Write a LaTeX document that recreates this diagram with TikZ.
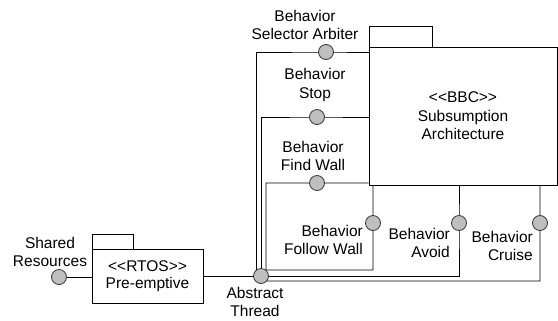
\documentclass[tikz,border=0pt]{standalone}
\usepackage{fontspec}
\setmainfont{Liberation Sans}
\usetikzlibrary{backgrounds}
\begin{document}
\begin{tikzpicture}[x=1bp,y=-1bp,
  every node/.style={font=\fontsize{15.5bp}{18.5bp}\selectfont},
  box/.style={draw=black, fill=white, line width=0.9bp, inner sep=0, align=center},
  lolli/.style={circle, draw=black!75, fill=black!25, minimum size=15bp, inner sep=0, line width=0.9bp},
  lbl/.style={align=center, inner sep=0},
  lblr/.style={align=right, inner sep=0, anchor=east},
  wire/.style={draw=black, line width=0.9bp}]
\useasboundingbox (0,0) rectangle (558,320);
% packages
\node[box, minimum width=63bp, minimum height=21bp] (bbctab) at (400.5,36.5) {};
\node[box, minimum width=188bp, minimum height=138bp] (bbc) at (463,116) {<{}<BBC>{}>\\Subsumption\\Architecture};
\node[box, minimum width=41bp, minimum height=15bp] (rtostab) at (112.5,241.5) {};
\node[box, minimum width=111bp, minimum height=54bp, font=\fontsize{15.5bp}{17bp}\selectfont] (rtos) at (147.5,276) {<{}<RTOS>{}>\\Pre-emptive};
% interfaces
\node[lolli] (sr) at (59,277) {};
\node[lolli] (at) at (261,276) {};
\node[lolli] (arb) at (326,52) {};
\node[lolli] (stop) at (317,117) {};
\node[lolli] (find) at (317,183) {};
\node[lolli] (fw) at (373,223) {};
\node[lolli] (av) at (459,223) {};
\node[lolli] (cr) at (540,223) {};
% labels
\node[lbl] (lsr) at (50,252) {Shared\\Resources};
\node[lbl] (lat) at (255,302) {Abstract\\Thread};
\node[lbl] (larb) at (305,25) {Behavior\\Selector Arbiter};
\node[lbl] (lstop) at (315,85) {Behavior\\Stop};
\node[lbl] (lfind) at (313,156) {Behavior\\Find Wall};
\node[lblr] (lfw) at (363,240) {Behavior\\Follow Wall};
\node[lblr] (lav) at (450,243) {Behavior\\Avoid};
\node[lblr] (lcr) at (533,246) {Behavior\\Cruise};
% connectors
\begin{scope}[on background layer]
\draw[wire] (sr.center) -- (rtos.west |- sr.center);
\draw[wire] (rtos.east |- at.center) -- (at.center);
\draw[wire] (bbc.west |- arb.center) -- (arb.center) -- ([xshift=-5bp]at.center |- arb.center) -- ([xshift=-5bp]at.center);
\draw[wire] (bbc.west |- stop.center) -- (stop.center) -- (at.center |- stop.center) -- (at.center);
\draw[wire] (bbc.west |- find.center) -- (find.center) -- ([xshift=5bp]at.center |- find.center) -- ([xshift=5bp,yshift=6bp]at.center) -- (fw.center |- 0,270) -- (fw.center) -- (fw.center |- bbc.south);
\draw[wire] (av.center |- bbc.south) -- (av.center) -- (av.center |- at.center) -- (at.center);
\draw[wire] (cr.center |- bbc.south) -- (cr.center) -- (cr.center |- 0,281) -- ([yshift=-5bp]at.center);
\end{scope}
\end{tikzpicture}
\end{document}
